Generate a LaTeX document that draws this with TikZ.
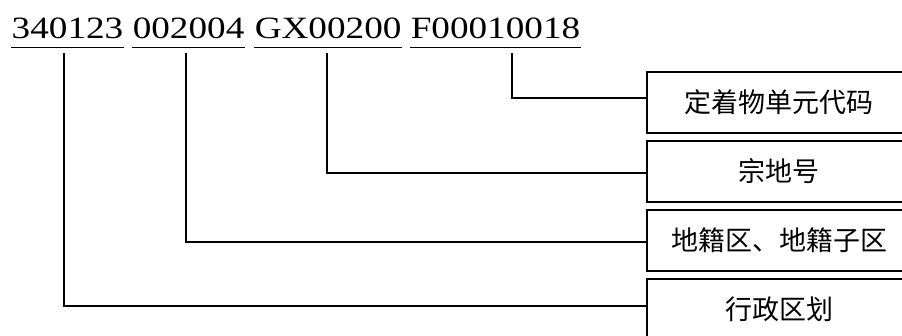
\documentclass[tikz,border=0pt]{standalone}
\usepackage{fontspec}
\setmainfont{Liberation Serif}
\newfontfamily\cjk{Noto Sans CJK SC}
\usetikzlibrary{calc}
\begin{document}
\begin{tikzpicture}[x=1pt,y=-1pt,line width=1.5pt,
  codeword/.style={inner sep=0pt,anchor=base west,font=\fontsize{31}{31}\selectfont},
  ubar/.style={line width=1.5pt},
  labelbox/.style={draw,line width=1.6pt,minimum width=264pt,minimum height=61pt,inner sep=0pt,font=\cjk\fontsize{27}{27}\selectfont},
  conn/.style={line width=1.5pt}]
\useasboundingbox (0,0) rectangle (902,336);
\clip (0,0) rectangle (902,336);
% code words
\node[codeword] (w1) at (11,38.3) {\scalebox{1.2}[1]{340123}};
\node[codeword] (w2) at (132,38.3) {\scalebox{1.2}[1]{002004}};
\node[codeword] (w3) at (254,38.3) {\scalebox{1.2}[1]{GX00200}};
\node[codeword] (w4) at (410,38.3) {\scalebox{1.2}[1]{F00010018}};
\foreach \w in {w1,w2,w3,w4}
  \draw[ubar] ($(\w.base west)+(0,9)$) -- ($(\w.base east)+(0,9)$);
% label boxes
\node[labelbox] (b1) at (779,102.5) {定着物单元代码};
\node[labelbox] (b2) at (779,171.5) {宗地号};
\node[labelbox] (b3) at (779,240.5) {地籍区、地籍子区};
\node[labelbox] (b4) at (779,309.5) {行政区划};
% connectors
\draw[conn] ($(w4.base west)+(102,15)$) |- ($(b1.west)+(0,-4.5)$);
\draw[conn] ($(w3.base west)+(73,15)$) |- ($(b2.west)+(0,1.5)$);
\draw[conn] ($(w2.base west)+(54,15)$) |- ($(b3.west)+(0,1.5)$);
\draw[conn] ($(w1.base west)+(53,15)$) |- ($(b4.west)+(0,-3.5)$);
\end{tikzpicture}
\end{document}
